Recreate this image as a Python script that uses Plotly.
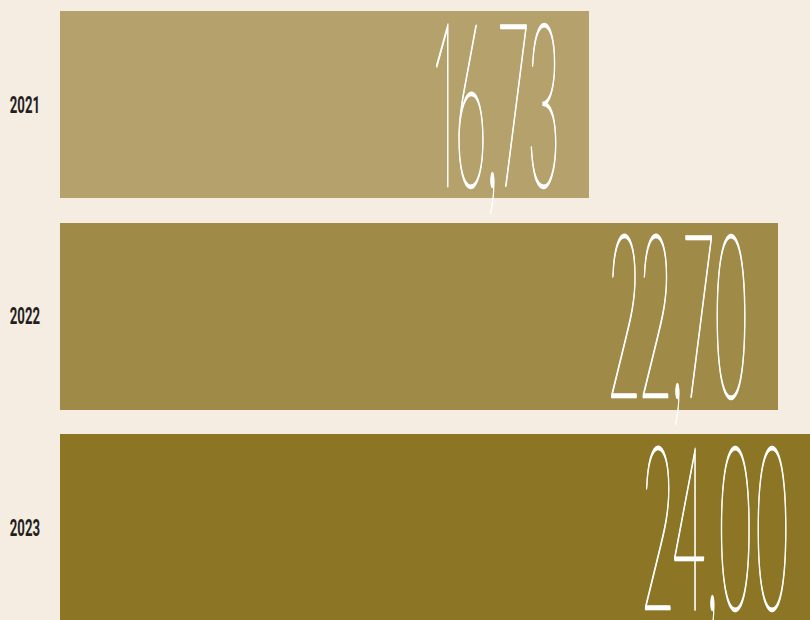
import json
import plotly.graph_objects as go

# Data
years = ["2021", "2022", "2023"]
values = [16.73, 22.70, 24.00]
value_labels = ["16,73", "22,70", "24,00"]
bar_colors = ["#b5a16c", "#a08a47", "#8c7626"]

BG = "#f5ede2"
X_MAX = 23.72          # visible end of the value axis (longest bar runs off the edge)
VALUE_SQUEEZE = 0.25   # horizontal condensing of the big value figures
YEAR_SQUEEZE = 0.55    # horizontal condensing of the year labels

fig = go.Figure(
    go.Bar(
        x=values,
        y=years,
        orientation="h",
        width=0.884,
        marker=dict(color=bar_colors, line=dict(width=0)),
        hoverinfo="skip",
    )
)

annotations = []
for i, (yr, v, lab) in enumerate(zip(years, values, value_labels)):
    # big value figure near the end of each bar (y given as category index)
    annotations.append(dict(
        xref="paper", yref="y",
        x=v / X_MAX, y=i,
        xanchor="right", yanchor="middle",
        xshift=-27, yshift=7,
        text=lab, showarrow=False,
        font=dict(family="Lato", size=228, color="#ffffff", weight=100),
    ))
    # year label on the left
    annotations.append(dict(
        xref="paper", yref="y",
        x=0, y=i,
        xanchor="right", yanchor="middle",
        xshift=-18,
        text=yr, showarrow=False,
        font=dict(family="Roboto", size=24, color="#231f20", weight=700),
    ))

fig.update_layout(
    width=810, height=620, autosize=False,
    margin=dict(l=60, r=0, t=0, b=0, pad=0),
    paper_bgcolor=BG, plot_bgcolor=BG,
    showlegend=False,
    bargap=0,
    xaxis=dict(range=[0, X_MAX], visible=False, fixedrange=True),
    yaxis=dict(type="category", categoryorder="array", categoryarray=years,
               range=[2.437, -0.494], visible=False, fixedrange=True),
    annotations=annotations,
)

# Condense the annotation texts horizontally, keeping their right edges fixed.
squeeze_js = """
var gd = document.getElementById('{plot_id}');
var YEARS = %s;
function squeeze() {
  gd.querySelectorAll('.annotation-text').forEach(function (t) {
    var isYear = YEARS.indexOf(t.textContent.trim()) >= 0;
    var dx = 0;
    if (!isYear) {
      t.style.fontFeatureSettings = '';
      var b0 = t.getBBox();
      t.style.fontFeatureSettings = '"pnum" 1';
      var b1 = t.getBBox();
      dx = (b0.x + b0.width) - (b1.x + b1.width);
      t.style.stroke = '#ffffff';
      t.style.strokeWidth = '1.8px';
      t.style.vectorEffect = 'non-scaling-stroke';
    }
    t.style.transformBox = 'fill-box';
    t.style.transformOrigin = '100%% 50%%';
    t.style.transform = 'translateX(' + dx + 'px) scaleX(' + (isYear ? %s : %s) + ')';
  });
}
squeeze();
gd.on('plotly_afterplot', squeeze);
gd.on('plotly_relayout', squeeze);
""" % (json.dumps(years), YEAR_SQUEEZE, VALUE_SQUEEZE)

fig.write_html("out.html", post_script=squeeze_js, config={"responsive": False, "displayModeBar": False})
